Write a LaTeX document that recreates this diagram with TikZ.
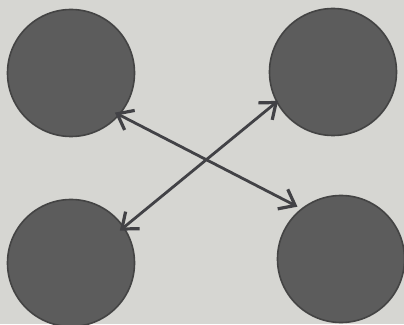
\documentclass[tikz,border=0pt]{standalone}
\usetikzlibrary{arrows.meta}
\definecolor{bg}{RGB}{214,214,210}
\definecolor{disc}{RGB}{92,92,92}
\definecolor{rim}{RGB}{68,68,68}
\definecolor{arrowc}{RGB}{66,66,70}
\begin{document}
\begin{tikzpicture}[x=1pt,y=1pt,
  disk/.style={circle,fill=disc,draw=rim,line width=1.6pt,minimum size=127pt,inner sep=0pt,outer sep=0pt},
  dblarrow/.style={arrowc,line width=2.8pt,{Straight Barb[length=14pt,width=22pt,line width=3.2pt]}-{Straight Barb[length=14pt,width=22pt,line width=3.2pt]}}]
\fill[bg] (0,0) rectangle (404,324);
\useasboundingbox (0,0) rectangle (404,324);
\node[disk] (tl) at (71,251) {};
\node[disk] (tr) at (333,252) {};
\node[disk] (bl) at (71,61) {};
\node[disk] (br) at (341,65) {};
\draw[dblarrow, shorten <=-4.5pt, shorten >=5pt] (tl.-41) -- (br.128);
\draw[dblarrow, shorten <=-1.5pt, shorten >=-5pt] (tr.208) -- (bl.34);
\end{tikzpicture}
\end{document}
